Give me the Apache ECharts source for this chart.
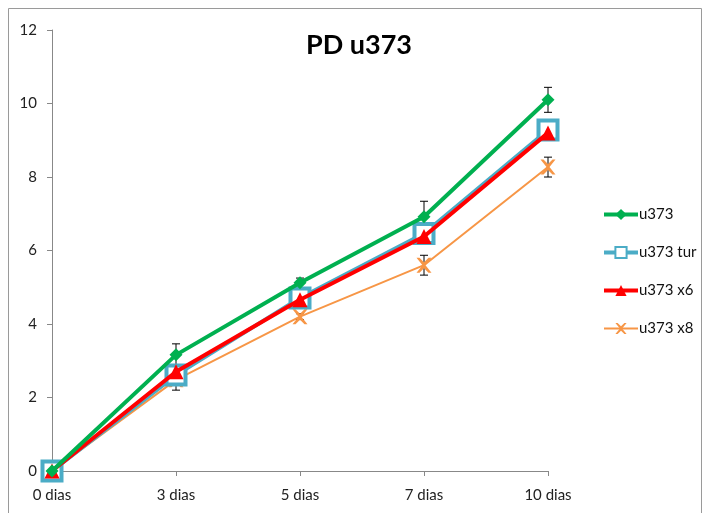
<!DOCTYPE html>
<html>
<head>
<meta charset="utf-8">
<script src="https://cdn.jsdelivr.net/npm/echarts@6/dist/echarts.min.js"></script>
<style>html,body{margin:0;padding:0;background:#fff;}#c{width:705px;height:513px;}</style>
</head>
<body>
<div id="c"></div>
<script>
// Days of culture
const categories = ['0 dias', '3 dias', '5 dias', '7 dias', '10 dias'];

// Population doublings per line, and their error (±)
const u373 = [0, 3.16, 5.12, 6.92, 10.1];
const u373Err = [0, 0.30, 0.13, 0.42, 0.34];
const u373tur = [0, 2.61, 4.71, 6.46, 9.28];
const u373turErr = [0, 0.15, 0.10, 0.20, 0.26];
const u373x6 = [0, 2.70, 4.66, 6.38, 9.20];
const u373x6Err = [0, 0.10, 0.08, 0.10, 0.10];
const u373x8 = [0, 2.48, 4.20, 5.60, 8.27];
const u373x8Err = [0, 0.28, 0.08, 0.27, 0.27];

const yTicks = [0, 2, 4, 6, 8, 10, 12];

const font = 'Lato, "Open Sans", sans-serif';
const xPath = 'path://M0,0 L2,0 L5,3 L8,0 L10,0 L6,5 L10,10 L8,10 L5,7 L2,10 L0,10 L4,5 Z';

function errorSeries(values, errs, name) {
  const data = values.map((v, i) => [i, v - errs[i], v + errs[i]]).filter((d, i) => errs[i] > 0);
  return {
    type: 'custom',
    name: name + ' err',
    z: 1,
    silent: true,
    data: data,
    encode: { x: 0, y: [1, 2] },
    renderItem: function (params, api) {
      const lo = api.coord([api.value(0), api.value(1)]);
      const hi = api.coord([api.value(0), api.value(2)]);
      const w = 4;
      const st = { stroke: '#000', lineWidth: 1 };
      return {
        type: 'group',
        children: [
          { type: 'line', shape: { x1: hi[0], y1: hi[1], x2: lo[0], y2: lo[1] }, style: st },
          { type: 'line', shape: { x1: hi[0] - w, y1: hi[1], x2: hi[0] + w, y2: hi[1] }, style: st },
          { type: 'line', shape: { x1: lo[0] - w, y1: lo[1], x2: lo[0] + w, y2: lo[1] }, style: st }
        ]
      };
    }
  };
}

const chart = echarts.init(document.getElementById('c'), null, { renderer: 'canvas' });
chart.setOption({
  animation: false,
  backgroundColor: '#fff',
  graphic: [{
    type: 'rect',
    shape: { x: 8.5, y: 8.5, width: 693, height: 520 },
    style: { fill: 'none', stroke: '#9a9a9a', lineWidth: 1 },
    silent: true,
    z: -10
  }],
  title: {
    text: 'PD u373',
    left: 354,
    top: 27,
    textAlign: 'center',
    textStyle: { fontFamily: font, fontSize: 27, fontWeight: 'bold', color: '#000' }
  },
  legend: {
    orient: 'vertical',
    left: 597,
    top: 202,
    itemGap: 23,
    itemWidth: 34,
    itemHeight: 14,
    textStyle: { fontFamily: font, fontSize: 15, color: '#111', padding: [0, 0, 0, -4] },
    data: [
      { name: 'u373', lineStyle: { width: 4 } },
      { name: 'u373 tur', lineStyle: { width: 4 } },
      { name: 'u373 x6', lineStyle: { width: 4 } },
      { name: 'u373 x8', lineStyle: { width: 2 } }
    ]
  },
  grid: { left: 52, right: 157, top: 30, bottom: 42, containLabel: false },
  xAxis: {
    type: 'category',
    data: categories,
    boundaryGap: false,
    axisLine: { lineStyle: { color: '#888', width: 1 } },
    axisTick: { alignWithLabel: true, length: 5, lineStyle: { color: '#888' } },
    axisLabel: { fontFamily: font, fontSize: 15, color: '#222', margin: 17 }
  },
  yAxis: {
    type: 'value',
    min: yTicks[0],
    max: yTicks[yTicks.length - 1],
    interval: yTicks[1] - yTicks[0],
    splitLine: { show: false },
    axisLine: { show: true, lineStyle: { color: '#888', width: 1 } },
    axisTick: { show: true, length: 5, lineStyle: { color: '#888' } },
    axisLabel: { fontFamily: font, fontSize: 15, color: '#222', margin: 15 }
  },
  series: [
    errorSeries(u373x8, u373x8Err, 'u373 x8'),
    errorSeries(u373tur, u373turErr, 'u373 tur'),
    errorSeries(u373x6, u373x6Err, 'u373 x6'),
    errorSeries(u373, u373Err, 'u373'),
    {
      name: 'u373 x8', type: 'line', data: u373x8, z: 2,
      symbol: xPath, symbolSize: 15,
      lineStyle: { color: '#f79646', width: 2 },
      itemStyle: { color: '#f79646' }
    },
    {
      name: 'u373 tur', type: 'line', data: u373tur, z: 3,
      symbol: 'rect', symbolSize: 19,
      lineStyle: { color: '#4bacc6', width: 4 },
      itemStyle: { color: '#fff', borderColor: '#4bacc6', borderWidth: 4 }
    },
    {
      name: 'u373 x6', type: 'line', data: u373x6, z: 4,
      symbol: 'triangle', symbolSize: 15,
      lineStyle: { color: '#ff0000', width: 4 },
      itemStyle: { color: '#ff0000' }
    },
    {
      name: 'u373', type: 'line', data: u373, z: 5,
      symbol: 'diamond', symbolSize: 13,
      lineStyle: { color: '#00b050', width: 4 },
      itemStyle: { color: '#00b050' }
    }
  ]
});
</script>
</body>
</html>
